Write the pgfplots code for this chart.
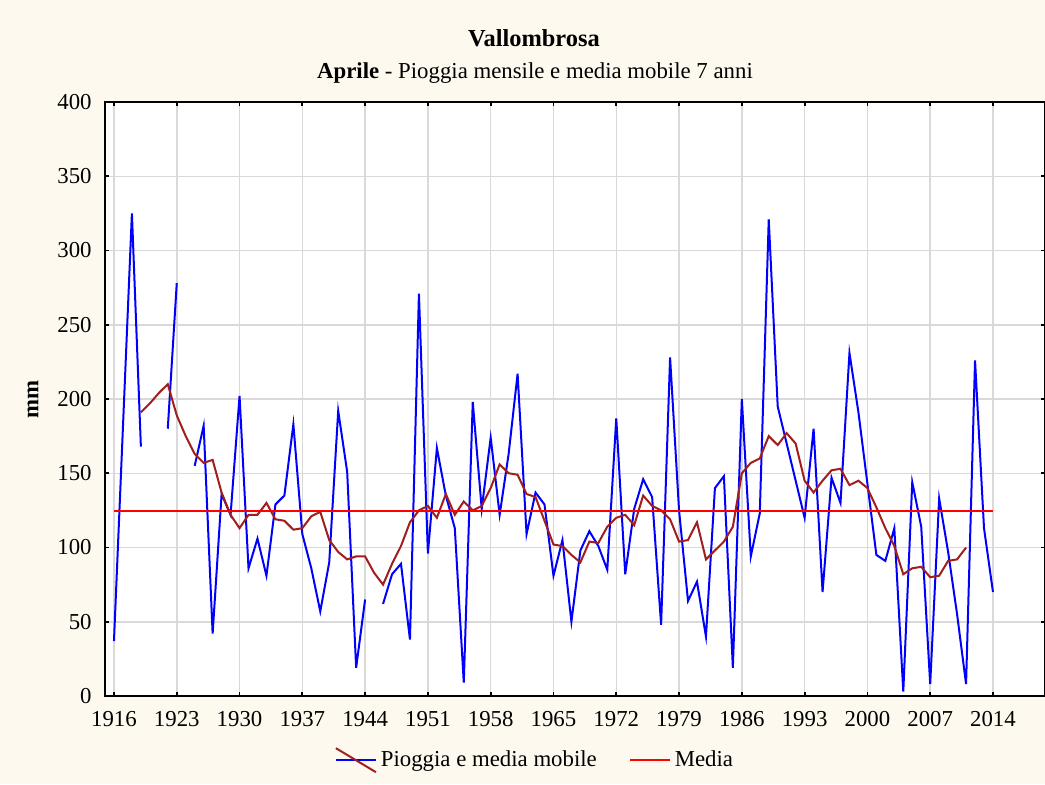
\documentclass[border=0pt]{standalone}
\usepackage{fontspec}
\setmainfont{Liberation Serif}
\usepackage{pgfplots}
\usepackage{pgfplotstable}
\pgfplotsset{compat=1.18}
\definecolor{bgc}{RGB}{254,249,239}
\definecolor{mavg}{RGB}{160,30,30}
\definecolor{gridc}{RGB}{217,217,217}
\pgfplotstableread{
year val
1916 37
1917 181
1918 325
1919 168
1920 nan
1921 nan
1922 180
1923 278
1924 nan
1925 155
1926 182
1927 42
1928 136
1929 122
1930 202
1931 86
1932 106
1933 81
1934 129
1935 135
1936 183
1937 109
1938 86
1939 57
1940 90
1941 192
1942 151
1943 19
1944 65
1945 nan
1946 62
1947 82
1948 89
1949 38
1950 271
1951 96
1952 167
1953 135
1954 113
1955 9
1956 198
1957 126
1958 174
1959 122
1960 163
1961 217
1962 109
1963 137
1964 129
1965 81
1966 105
1967 50
1968 98
1969 111
1970 101
1971 85
1972 187
1973 82
1974 126
1975 146
1976 134
1977 48
1978 228
1979 125
1980 64
1981 77
1982 40
1983 140
1984 148
1985 19
1986 200
1987 94
1988 123
1989 321
1990 195
1991 170
1992 145
1993 120
1994 180
1995 70
1996 147
1997 130
1998 231
1999 191
2000 143
2001 95
2002 91
2003 113
2004 3
2005 144
2006 114
2007 8
2008 133
2009 97
2010 55
2011 8
2012 226
2013 113
2014 70
}\rain
\pgfplotstableread{
year val
1919 191
1920 197
1921 204
1922 210
1923 189
1924 175
1925 163
1926 157
1927 159
1928 137
1929 122
1930 113
1931 122
1932 122
1933 130
1934 119
1935 118
1936 112
1937 113
1938 121
1939 124
1940 105
1941 97
1942 92
1943 94
1944 94
1945 83
1946 75
1947 89
1948 101
1949 117
1950 125
1951 128
1952 120
1953 136
1954 122
1955 131
1956 125
1957 128
1958 140
1959 156
1960 150
1961 149
1962 136
1963 134
1964 118
1965 102
1966 101
1967 95
1968 90
1969 104
1970 103
1971 114
1972 120
1973 122
1974 115
1975 135
1976 128
1977 125
1978 119
1979 104
1980 105
1981 117
1982 92
1983 98
1984 104
1985 114
1986 150
1987 157
1988 160
1989 175
1990 169
1991 177
1992 170
1993 145
1994 137
1995 145
1996 152
1997 153
1998 142
1999 145
2000 140
2001 127
2002 113
2003 101
2004 82
2005 86
2006 87
2007 80
2008 81
2009 91
2010 92
2011 100
}\mavgtab
\begin{document}
\begin{tikzpicture}[font=\fontsize{11.4}{13.5}\selectfont]
\fill[bgc] (0,0) rectangle (522.5pt,392pt);
\useasboundingbox (0,0) rectangle (522.5pt,392pt);
\node[font=\bfseries\fontsize{12.2}{14}\selectfont] at (267pt,373pt) {Vallombrosa};
\node at (267.5pt,355.5pt) {\textbf{Aprile} - Pioggia mensile e media mobile 7 anni};
\begin{axis}[
  at={(52.5pt,44pt)}, anchor=south west,
  scale only axis, width=470pt, height=297pt,
  xmin=1915, xmax=2019.8, ymin=0, ymax=400,
  xtick={1916,1923,...,2014}, ytick={0,50,...,400},
  /pgf/number format/1000 sep={},
  /pgf/number format/assume math mode=true,
  axis background/.style={fill=white},
  grid=major, major grid style={gridc, line width=0.75pt},
  axis line style={black, line width=1pt},
  tick align=inside, major tick length=1.8pt,
  tick style={black, line width=0.9pt},
  tick label style={font=\fontsize{11.4}{13.5}\selectfont},
  xticklabel style={anchor=north, inner sep=0pt, yshift=-7.5pt},
  yticklabel style={anchor=east, inner sep=0pt, xshift=-6.5pt},
  ylabel={\textbf{mm}},
  ylabel style={at={(axis description cs:-0.0767,0.5)}, anchor=center, font=\fontsize{11.4}{13.5}\selectfont},
  unbounded coords=jump,
  legend style={at={(0.4585,-0.108)}, anchor=center, legend columns=2, draw=none, fill=none,
    font=\fontsize{11.4}{13.5}\selectfont,
    /tikz/every even column/.append style={column sep=14pt}},
  legend cell align=left,
]
\addplot[blue, line width=1pt,
  legend image code/.code={\draw[blue,line width=1pt] (0pt,0pt) -- (20pt,0pt);
    \draw[mavg,line width=1pt] (0pt,6pt) -- (20pt,-6pt);}]
  table[x=year,y=val] {\rain};
\addlegendentry{Pioggia e media mobile}
\addplot[mavg, line width=1pt, forget plot] table[x=year,y=val] {\mavgtab};
\addplot[red, line width=0.8pt,
  legend image code/.code={\draw[red,line width=1pt] (0pt,0pt) -- (20pt,0pt);}]
  coordinates {(1916,124.5) (2014,124.5)};
\addlegendentry{Media}
\end{axis}
\end{tikzpicture}
\end{document}
